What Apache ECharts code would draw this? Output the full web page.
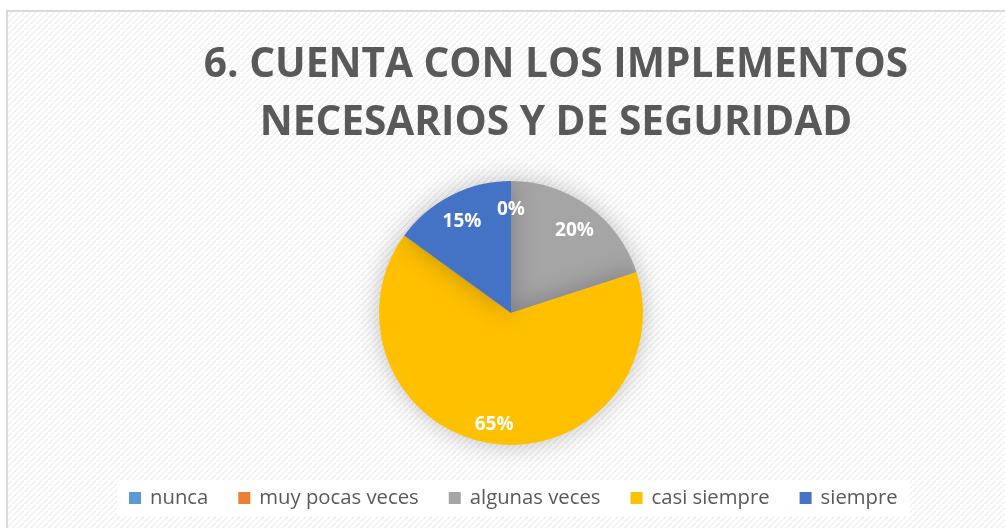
<!DOCTYPE html>
<html>
<head>
<meta charset="utf-8">
<style>
  html, body { margin: 0; padding: 0; background: #fff; }
  #container { width: 1005px; height: 528px; }
</style>
<script src="https://cdn.jsdelivr.net/npm/echarts@6/dist/echarts.min.js"></script>
</head>
<body>
<div id="container"></div>
<script>
var dom = document.getElementById("container");
var myChart = echarts.init(dom);

var titleText = '6. CUENTA CON LOS IMPLEMENTOS\nNECESARIOS Y DE SEGURIDAD';
var categories = ['nunca', 'muy pocas veces', 'algunas veces', 'casi siempre', 'siempre'];
var values = [0, 0, 20, 65, 15];
var colors = ['#5B9BD5', '#ED7D31', '#A5A5A5', '#FFC000', '#4472C4'];

var font = '"Open Sans", Calibri, sans-serif';

// light diagonal hatch like the office chart style
var pat = document.createElement('canvas');
pat.width = 6; pat.height = 6;
var ctx = pat.getContext('2d');
ctx.fillStyle = '#ffffff';
ctx.fillRect(0, 0, 6, 6);
ctx.fillStyle = '#f0f0f0';
for (var i = 0; i < 6; i++) {
  ctx.fillRect(i, 5 - i, 2, 1);
}

var pieData = categories.map(function (name, i) {
  return { name: name, value: values[i], itemStyle: { color: colors[i] } };
});

var option = {
  backgroundColor: '#ffffff',
  animation: false,
  graphic: [
    {
      type: 'rect',
      z: -10,
      shape: { x: 7, y: 11, width: 1010, height: 530 },
      style: { fill: { image: pat, repeat: 'repeat' }, stroke: '#d9d9d9', lineWidth: 2 }
    }
  ],
  title: {
    text: titleText,
    left: 551,
    textAlign: 'center',
    top: 31,
    textStyle: {
      fontFamily: font,
      fontSize: 40.6,
      fontWeight: 'bold',
      color: '#595959',
      lineHeight: 58
    }
  },
  legend: {
    bottom: 12,
    left: 117,
    icon: 'rect',
    itemWidth: 12,
    itemHeight: 12,
    itemGap: 30,
    backgroundColor: '#ffffff',
    padding: [8, 12],
    data: categories.map(function (name, i) {
      return { name: name, itemStyle: { color: colors[i] } };
    }),
    textStyle: { fontFamily: font, fontSize: 20.3, color: '#595959', padding: [0, 0, 0, 4] }
  },
  series: [
    {
      type: 'pie',
      center: [511, 313],
      radius: [0, 132],
      startAngle: 90,
      clockwise: true,
      label: { show: false },
      labelLine: { show: false },
      emphasis: { disabled: true },
      itemStyle: {
        shadowBlur: 26,
        shadowColor: 'rgba(0,0,0,0.25)'
      },
      data: pieData
    },
    {
      // transparent ring used only to place labels at ~0.8 of the radius
      type: 'pie',
      center: [511, 318],
      radius: [78, 132],
      startAngle: 90,
      clockwise: true,
      silent: true,
      legendHoverLink: false,
      itemStyle: { color: 'rgba(0,0,0,0)' },
      label: {
        show: true,
        position: 'inside',
        formatter: function (p) { return Math.round(p.percent) + '%'; },
        fontFamily: font,
        fontSize: 19,
        fontWeight: 'bold',
        color: '#ffffff'
      },
      labelLine: { show: false },
      emphasis: { disabled: true },
      data: categories.map(function (name, i) {
        return { name: name, value: values[i] };
      })
    }
  ]
};

if (option && typeof option === 'object') {
    myChart.setOption(option);
}
</script>
</body>
</html>
